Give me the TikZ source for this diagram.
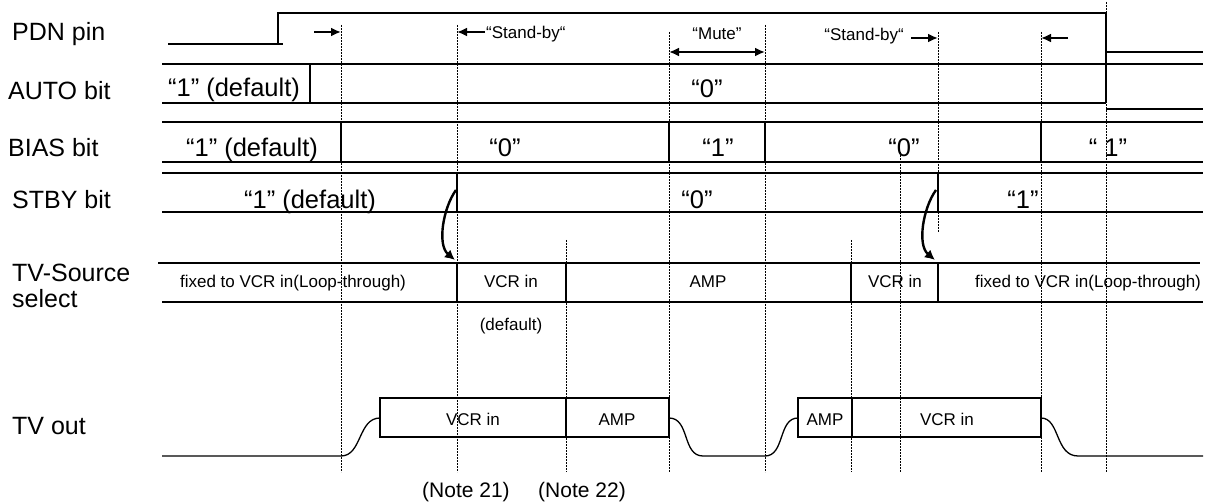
\documentclass[tikz,border=0pt]{standalone}
\usepackage{fontspec}
\setmainfont{Liberation Sans}
\usetikzlibrary{arrows.meta}
\begin{document}
\begin{tikzpicture}[x=1pt,y=-1pt,
  sig/.style={line width=1.3pt},
  guide/.style={line width=0.9pt, dash pattern=on 2pt off 1pt},
  lbl/.style={font=\fontsize{25}{28}\selectfont, anchor=base west, inner sep=0},
  val/.style={font=\fontsize{25.5}{28}\selectfont, anchor=base, inner sep=0},
  sm/.style={font=\fontsize{17}{20}\selectfont, anchor=base, inner sep=0},
  note/.style={font=\fontsize{21}{24}\selectfont, anchor=base, inner sep=0},
  marker/.style={line width=2.4pt, -{Latex[length=10pt,width=9pt]}},
  dmarker/.style={line width=2.4pt, {Latex[length=10pt,width=9pt]}-{Latex[length=10pt,width=9pt]}},
  curvearrow/.style={line width=2.4pt, -{Latex[length=10pt,width=10pt]}},
  ]
\useasboundingbox (0,0) rectangle (1213,502);

% dashed guide lines
\draw[guide] (341,25) -- (341,472);
\draw[guide] (457,25) -- (457,472);
\draw[guide] (566,240) -- (566,472);
\draw[guide] (669,32) -- (669,472);
\draw[guide] (765,25) -- (765,472);
\draw[guide] (851,240) -- (851,472);
\draw[guide] (900,152) -- (900,472);
\draw[guide] (938,32) -- (938,232);
\draw[guide] (1041,32) -- (1041,472);
\draw[guide] (1106,2) -- (1106,472);

% row labels
\node[lbl] (lpdn) at (12,41) {PDN pin};
\node[lbl] (lauto) at (8,100) {AUTO bit};
\node[lbl] (lbias) at (8,157) {BIAS bit};
\node[lbl] (lstby) at (12,209) {STBY bit};
\node[lbl] (ltvs) at (12,282) {TV-Source};
\node[lbl] (lsel) at (12,308) {select};
\node[lbl] (ltvo) at (12,435) {TV out};

% PDN pin
\draw[sig] (168,44) -- (283,44);
\draw[sig] (278,44) -- (278,13) -- (1106,13) -- (1106,52) -- (1203,52);

% AUTO bit
\draw[sig] (162,64) -- (1203,64);
\draw[sig] (162,103) -- (1106,103);
\draw[sig] (310,64) -- (310,103);
\draw[sig] (1106,52) -- (1106,103);
\draw[sig] (1106,109) -- (1203,109);
\node[val] (a1) at (234,97) {“1” (default)};
\node[val] (a0) at (707,98) {“0”};

% BIAS bit
\draw[sig] (162,122) -- (1203,122);
\draw[sig] (162,162) -- (1203,162);
\foreach \x in {341,669,765,1041} \draw[sig] (\x,122) -- (\x,162);
\node[val] (b1) at (252,157) {“1” (default)};
\node[val] (b0) at (505,157) {“0”};
\node[val] (b1b) at (718,157) {“1”};
\node[val] (b0b) at (904,157) {“0”};
\node[val] (b1c) at (1108,157) {“ 1”};

% STBY bit
\draw[sig] (162,173) -- (1203,173);
\draw[sig] (162,212) -- (1203,212);
\foreach \x in {457,938} \draw[sig] (\x,173) -- (\x,212);
\node[val] (s1) at (310,209) {“1” (default)};
\node[val] (s0) at (697,209) {“0”};
\node[val] (s1b) at (1023,209) {“1”};

% TV-Source select
\draw[sig] (158,263) -- (1200,263);
\draw[sig] (162,302) -- (1203,302);
\foreach \x in {457,566,851,938} \draw[sig] (\x,263) -- (\x,302);
\node[sm] (t1) at (293,288) {fixed to VCR in(Loop-through)};
\node[sm] (t2) at (511,288) {VCR in};
\node[sm] (t3) at (708,288) {AMP};
\node[sm] (t4) at (895,288) {VCR in};
\node[sm] (t5) at (1088,288) {fixed to VCR in(Loop-through)};
\node[sm] (tdef) at (511,331) {(default)};

% TV out
\draw[sig] (162,456) -- (341,456) .. controls (362,456) and (358,418) .. (380,418);
\draw[sig] (380,398) rectangle (669,437);
\draw[sig] (566,398) -- (566,437);
\draw[sig] (669,418) .. controls (690,418) and (682,456) .. (703,456) -- (765,456)
  .. controls (785,456) and (778,418) .. (798,418);
\draw[sig] (798,398) rectangle (1041,437);
\draw[sig] (852,398) -- (852,437);
\draw[sig] (1041,418) .. controls (1060,418) and (1055,456) .. (1078,456) -- (1203,456);
\node[sm] (o1) at (473,425) {VCR in};
\node[sm] (o2) at (617,425) {AMP};
\node[sm] (o3) at (825,425) {AMP};
\node[sm] (o4) at (947,425) {VCR in};
\node[note] (n21) at (466,497) {(Note 21)};
\node[note] (n22) at (582,497) {(Note 22)};

% PDN markers
\coordinate (m1a) at (314,32); \coordinate (m1b) at (341,32);
\draw[marker] (m1a) -- (m1b);
\coordinate (m2a) at (485,32); \coordinate (m2b) at (457,32);
\draw[marker] (m2a) -- (m2b);
\node[sm, anchor=base west] (sb1) at (486,39) {“Stand-by“};
\coordinate (m3a) at (669,52); \coordinate (m3b) at (765,52);
\draw[dmarker] (m3a) -- (m3b);
\node[sm] (mute) at (717,40) {“Mute”};
\node[sm, anchor=base east] (sb2) at (904,41) {“Stand-by“};
\coordinate (m4a) at (911,38); \coordinate (m4b) at (938,38);
\draw[marker] (m4a) -- (m4b);
\coordinate (m5a) at (1068,38); \coordinate (m5b) at (1041,38);
\draw[marker] (m5a) -- (m5b);

% curved arrows STBY -> TV-Source
\coordinate (c1a) at (456,190); \coordinate (c1b) at (455,260);
\draw[curvearrow] (c1a) .. controls (443,208) and (437,245) .. (c1b);
\coordinate (c2a) at (936,190); \coordinate (c2b) at (935,260);
\draw[curvearrow] (c2a) .. controls (923,208) and (917,245) .. (c2b);
\end{tikzpicture}
\end{document}
